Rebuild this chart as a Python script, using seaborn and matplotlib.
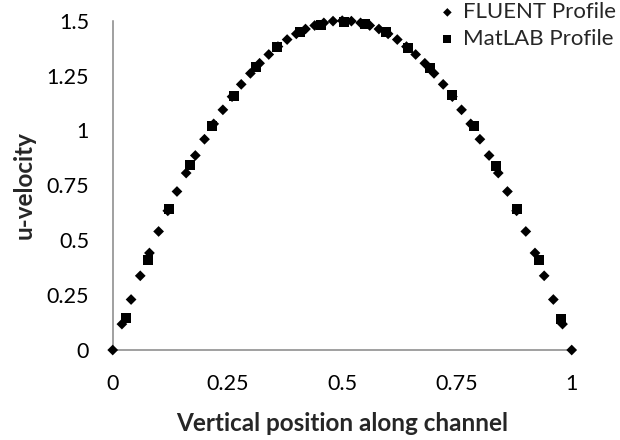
# Velocity profile across the channel: FLUENT vs MatLAB

import pandas as pd
import matplotlib.pyplot as plt
import seaborn as sns

# FLUENT profile
fluent_pos = [0.00, 0.02, 0.04, 0.06, 0.08, 0.10, 0.12, 0.14, 0.16, 0.18,
              0.20, 0.22, 0.24, 0.26, 0.28, 0.30, 0.32, 0.34, 0.36, 0.38,
              0.40, 0.42, 0.44, 0.46, 0.48, 0.50, 0.52, 0.54, 0.56, 0.58,
              0.60, 0.62, 0.64, 0.66, 0.68, 0.70, 0.72, 0.74, 0.76, 0.78,
              0.80, 0.82, 0.84, 0.86, 0.88, 0.90, 0.92, 0.94, 0.96, 0.98, 1.00]
fluent_u = [0.000, 0.118, 0.230, 0.338, 0.442, 0.540, 0.634, 0.722, 0.806, 0.886,
            0.960, 1.030, 1.094, 1.154, 1.210, 1.260, 1.306, 1.346, 1.382, 1.414,
            1.440, 1.462, 1.478, 1.490, 1.498, 1.500, 1.498, 1.490, 1.478, 1.462,
            1.440, 1.414, 1.382, 1.346, 1.306, 1.260, 1.210, 1.154, 1.094, 1.030,
            0.960, 0.886, 0.806, 0.722, 0.634, 0.540, 0.442, 0.338, 0.230, 0.118, 0.000]

# MatLAB profile
matlab_pos = [0.028, 0.076, 0.123, 0.169, 0.217, 0.264, 0.312, 0.359, 0.407, 0.454,
              0.503, 0.549, 0.596, 0.643, 0.692, 0.740, 0.787, 0.834, 0.881, 0.929, 0.976]
matlab_u = [0.144, 0.410, 0.641, 0.843, 1.020, 1.159, 1.288, 1.379, 1.450, 1.481,
            1.496, 1.485, 1.447, 1.377, 1.283, 1.162, 1.020, 0.840, 0.641, 0.410, 0.140]

x_ticks = [0, 0.25, 0.5, 0.75, 1]
x_tick_labels = ["0", "0.25", "0.5", "0.75", "1"]
y_ticks = [0, 0.25, 0.5, 0.75, 1, 1.25, 1.5]
y_tick_labels = ["0", "0.25", "0.5", "0.75", "1", "1.25", "1.5"]

df_fluent = pd.DataFrame({"pos": fluent_pos, "u": fluent_u})
df_matlab = pd.DataFrame({"pos": matlab_pos, "u": matlab_u})

sns.set_style("white")
plt.rcParams["font.family"] = ["Lato", "DejaVu Sans"]

fig = plt.figure(figsize=(6.2, 4.4), dpi=100)
ax = fig.add_axes([0.1818, 0.2045, 0.7403, 0.7485])

sns.scatterplot(data=df_fluent, x="pos", y="u", marker="D", s=30,
                color="black", edgecolor="none", linewidth=0,
                label="FLUENT Profile", clip_on=False, zorder=3, ax=ax)
sns.scatterplot(data=df_matlab, x="pos", y="u", marker="s", s=52,
                color="black", edgecolor="none", linewidth=0,
                label="MatLAB Profile", clip_on=False, zorder=4, ax=ax)

ax.set_xlim(0, 1)
ax.set_ylim(0, 1.5)
ax.set_xticks(x_ticks)
ax.set_xticklabels(x_tick_labels)
ax.set_yticks(y_ticks)
ax.set_yticklabels(y_tick_labels)

for side in ["top", "right"]:
    ax.spines[side].set_visible(False)
for side in ["left", "bottom"]:
    ax.spines[side].set_color("#868686")
    ax.spines[side].set_linewidth(1.1)

ax.tick_params(axis="both", direction="out", length=5, width=1.1,
               color="#868686", labelsize=15.5, labelcolor="black")
ax.tick_params(axis="x", pad=12)
ax.tick_params(axis="y", pad=12)

ax.set_xlabel("Vertical position along channel", fontsize=17.5,
              fontweight="bold", labelpad=13)
ax.set_ylabel("u-velocity", fontsize=17.5, fontweight="bold", labelpad=8)

# legend sits in the top right corner of the figure, no frame
handles, labels = ax.get_legend_handles_labels()
ax.get_legend().remove()
fig.legend(handles, labels, loc="upper right", bbox_to_anchor=(0.997, 1.0),
           frameon=False, fontsize=16, handlelength=0.8, handletextpad=0.3,
           labelspacing=0.3, borderpad=0.1, borderaxespad=0, markerscale=0.8)

plt.savefig("out.png", dpi=100)
